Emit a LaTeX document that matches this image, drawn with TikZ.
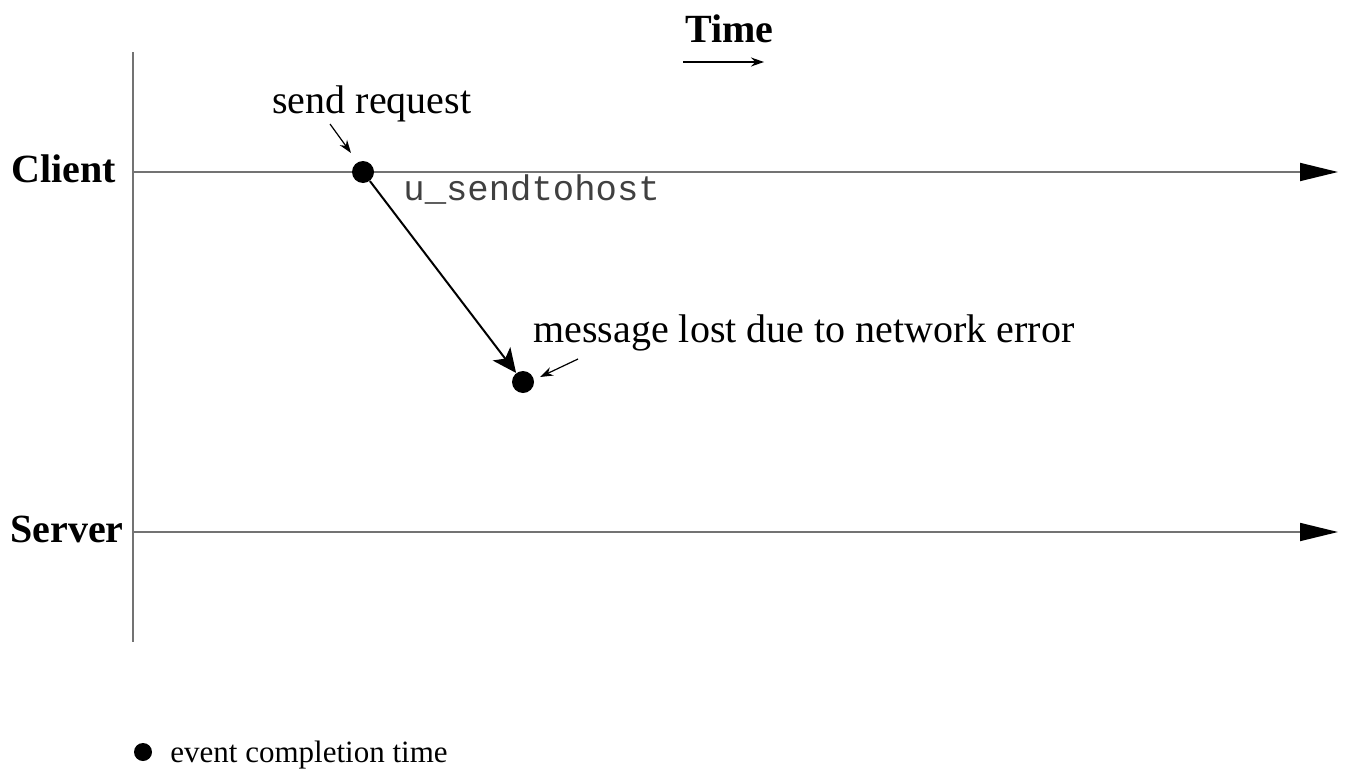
\documentclass[tikz,border=0pt]{standalone}
\usepackage{fontspec}
\setmainfont{Liberation Serif}
\setmonofont{Liberation Mono}
\usetikzlibrary{arrows.meta}
\begin{document}
\begin{tikzpicture}[x=0.5pt,y=-0.5pt,
  lbl/.style={inner sep=0pt,font=\fontsize{20}{24}\selectfont},
  blbl/.style={inner sep=0pt,font=\fontsize{20}{24}\selectfont\bfseries},
  dot/.style={circle,fill=black,inner sep=0pt,minimum size=11pt},
  axis/.style={draw=black!55,line width=0.9pt},
  axisarrow/.style={axis,-{Triangle[length=19pt,width=9pt,fill=black,color=black]}},
  msg/.style={draw=black,line width=1pt,-{Stealth[length=12pt,width=11pt,inset=3pt]}},
  pointer/.style={draw=black,line width=0.6pt,-{Stealth[length=6.5pt,width=4.5pt]}}]
\useasboundingbox (0,0) rectangle (1348,771);
% axes
\coordinate (vtop) at (133,52);
\coordinate (vbot) at (133,642);
\draw[axis] (vtop) -- (vbot);
\coordinate (cstart) at (133,172);
\coordinate (cend) at (1338,172);
\coordinate (sstart) at (133,532);
\coordinate (send) at (1338,532);
\draw[axisarrow] (cstart) -- (cend);
\draw[axisarrow] (sstart) -- (send);
% labels
\node[blbl,anchor=base east] (client) at (116,182) {Client};
\node[blbl,anchor=base east] (server) at (124,542) {Server};
\node[blbl,anchor=base west] (time) at (685,42) {Time};
\coordinate (ta) at (683,62);
\coordinate (tb) at (764,62);
\draw[pointer] (ta) -- (tb);
% events
\node[dot] (d1) at (363,172) {};
\node[dot] (d2) at (523,382) {};
\draw[msg] (d1) -- (d2);
\node[lbl,anchor=base west] (sreq) at (272,113) {send request};
\coordinate (p1a) at (330,124);
\coordinate (p1b) at (351,153);
\draw[pointer] (p1a) -- (p1b);
\node[inner sep=0pt,anchor=base west,text=black!75,font=\fontsize{17.8}{20}\selectfont\ttfamily] (call) at (403,200) {u\_sendtohost};
\node[lbl,anchor=base west] (lost) at (533,342) {message lost due to network error};
\coordinate (p2a) at (578,359);
\coordinate (p2b) at (540,377);
\draw[pointer] (p2a) -- (p2b);
% legend
\node[dot,minimum size=9pt] (ldot) at (143,752) {};
\node[inner sep=0pt,anchor=base west,font=\fontsize{15.5}{18}\selectfont] (legend) at (170,762) {event completion time};
\end{tikzpicture}
\end{document}
